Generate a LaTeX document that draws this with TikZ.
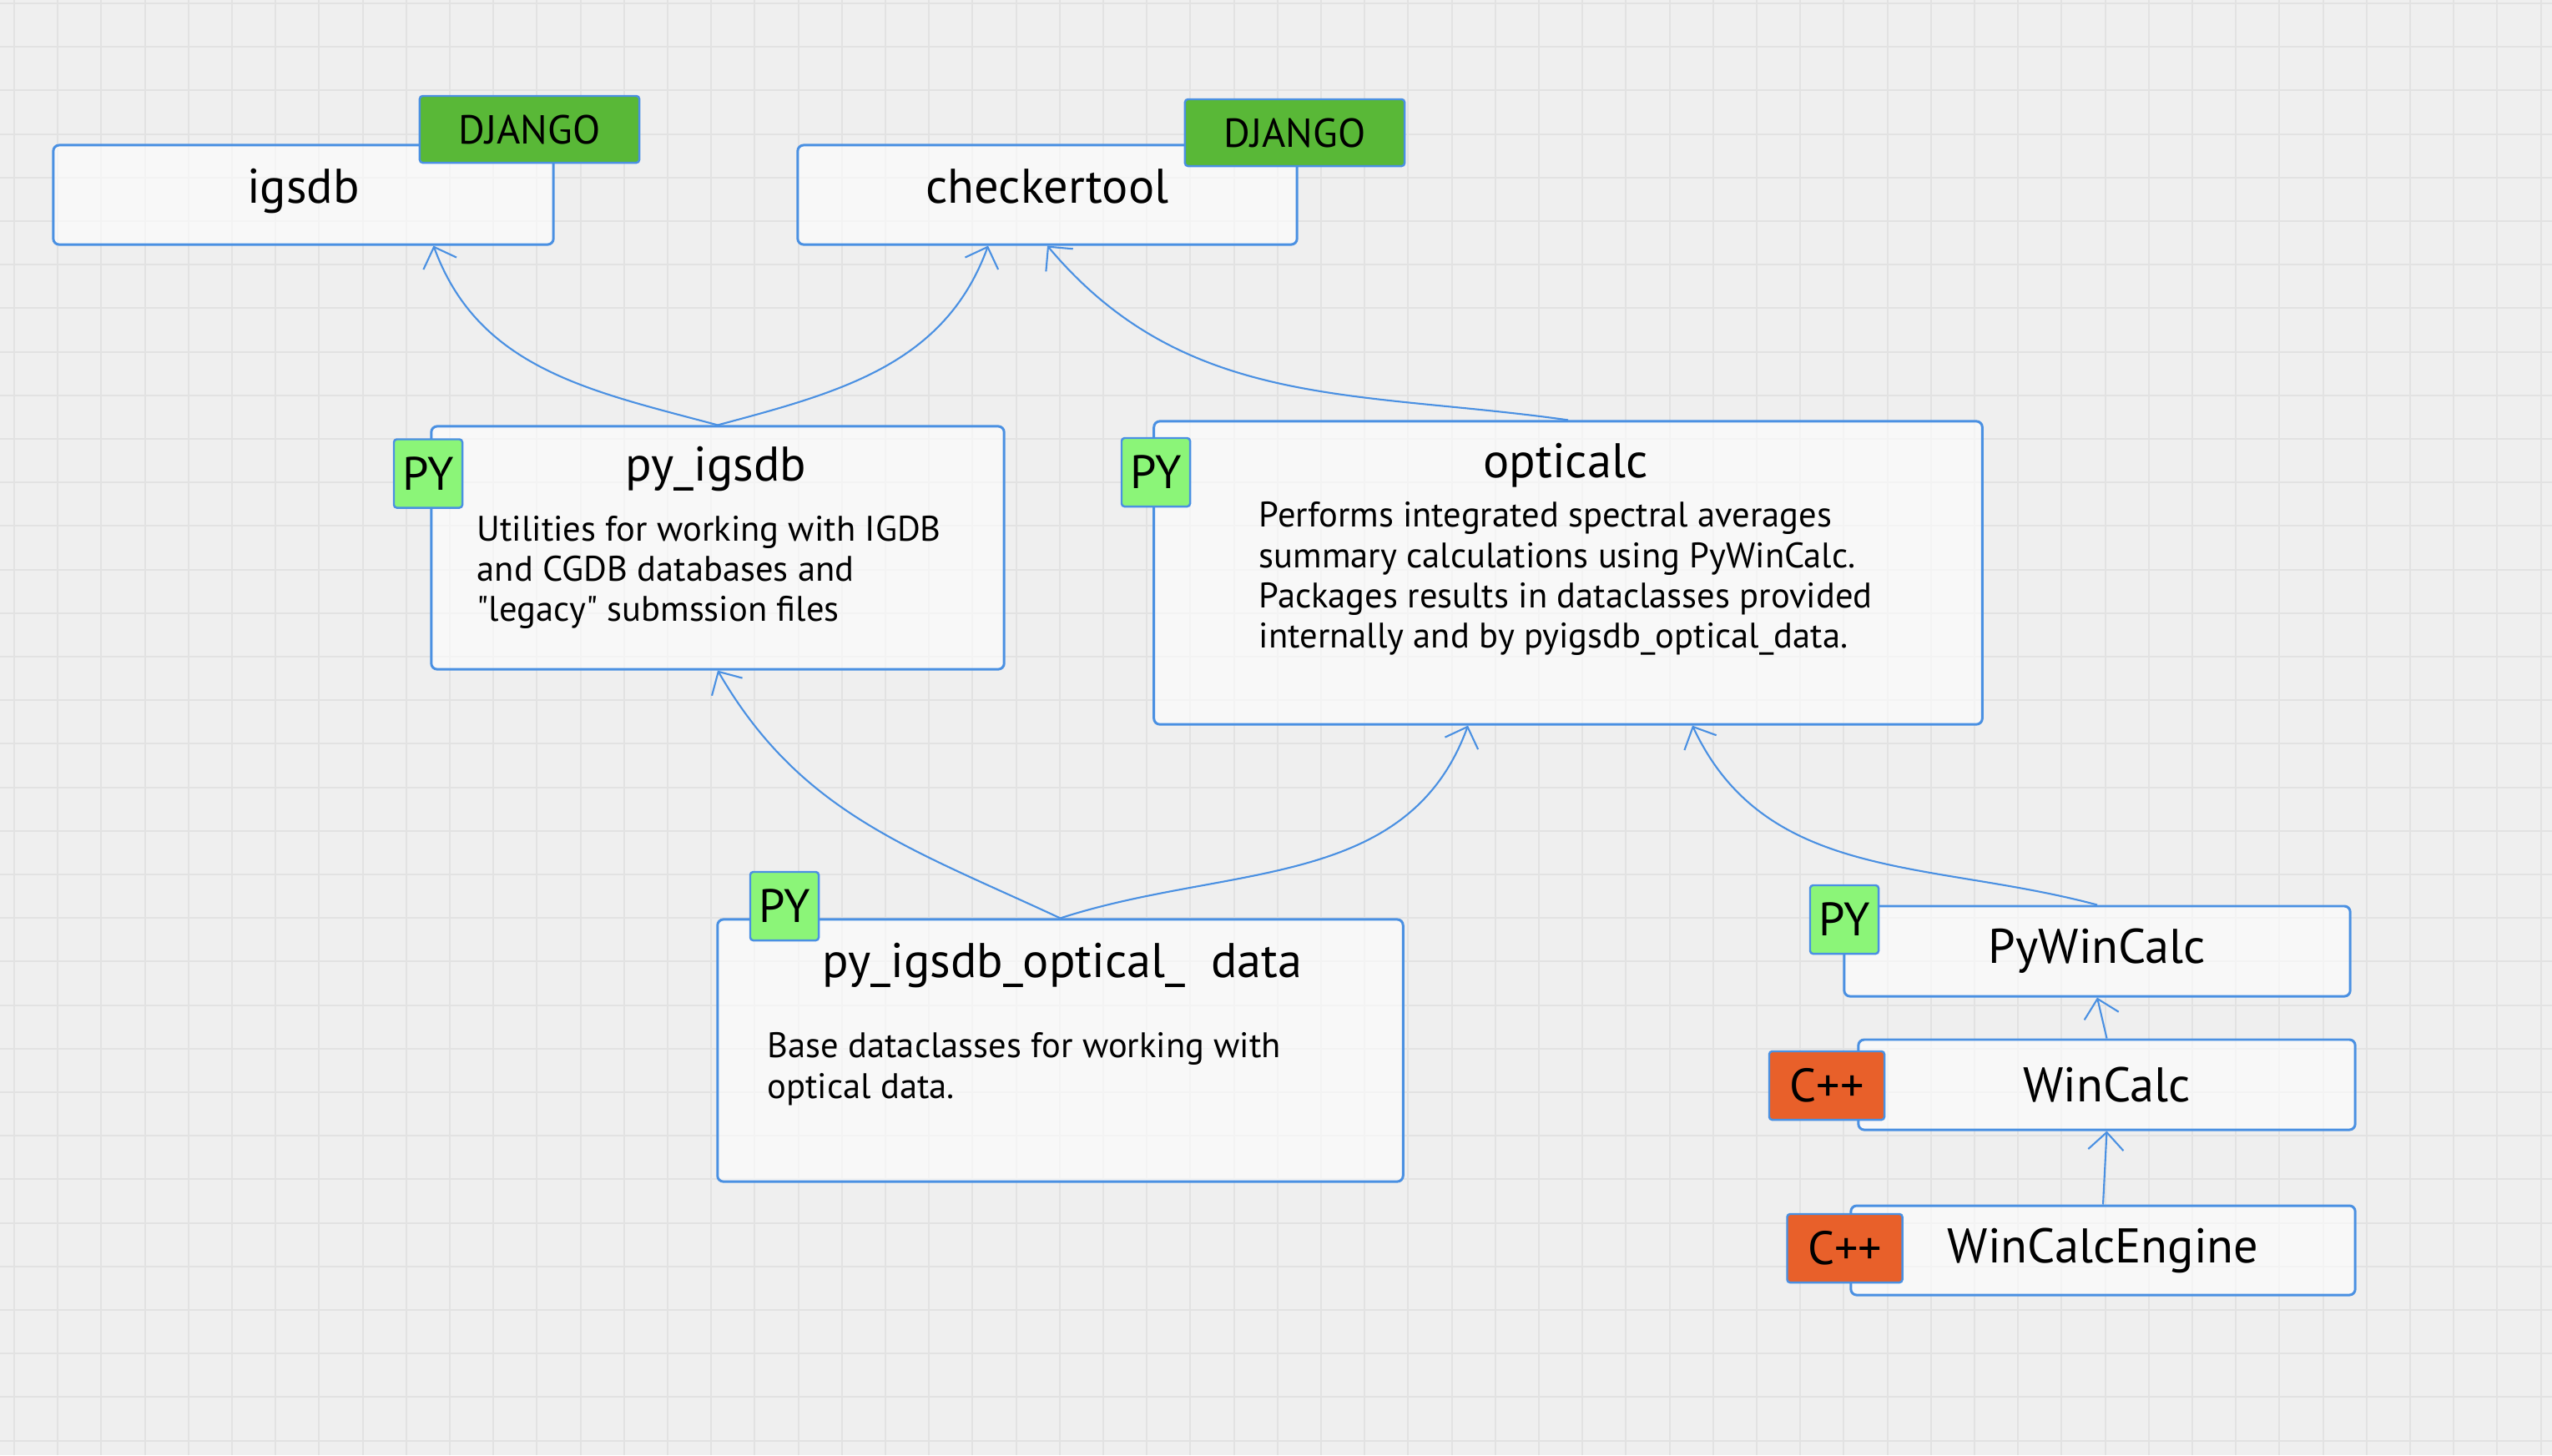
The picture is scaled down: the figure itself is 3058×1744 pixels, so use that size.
\documentclass[tikz,border=0pt]{standalone}
\usepackage{fontspec}
\setmainfont{PT Sans}[Ligatures=TeXOff]
\usetikzlibrary{arrows.meta,calc}
\definecolor{bgcol}{HTML}{EFEFEF}
\definecolor{gridcol}{HTML}{E2E2E2}
\definecolor{linkblue}{HTML}{4A90E2}
\definecolor{djgreen}{HTML}{59B837}
\definecolor{pygreen}{HTML}{8BF578}
\definecolor{cppor}{HTML}{E8602A}
\newcommand{\titlefont}{\fontsize{16.6}{19}\selectfont}
\newcommand{\descfont}{\fontsize{12.1}{13.7}\selectfont}
\begin{document}
\begin{tikzpicture}[x=0.01cm,y=0.01cm,
 box/.style={rectangle, rounded corners=2pt, draw=linkblue, line width=0.85pt, fill=white, fill opacity=0.6, text opacity=1, inner sep=0pt, font=\titlefont},
 tag/.style={rectangle, rounded corners=1pt, draw=linkblue, line width=0.7pt, inner sep=0pt, text=black},
 django/.style={tag, fill=djgreen, minimum width=2.63cm, minimum height=0.80cm, font=\fontsize{13.8}{16}\selectfont},
 pytag/.style={tag, fill=pygreen, minimum width=0.82cm, minimum height=0.82cm, font=\fontsize{16}{19}\selectfont},
 cpptag/.style={tag, fill=cppor, minimum width=1.38cm, minimum height=0.82cm, font=\fontsize{16}{19}\selectfont},
 link/.style={draw=linkblue, line width=0.6pt, -{Straight Barb[length=6pt,width=12pt]}},
 ttl/.style={font=\titlefont, inner sep=0pt},
 desc/.style={font=\descfont, align=left, inner sep=0pt, anchor=north west},
]
% background
\fill[bgcol] (0,0) rectangle (3058,-1744);
\begin{scope}
\clip (0,0) rectangle (3058,-1744);
\foreach \i in {0,...,58} \draw[gridcol, line width=0.02cm] ({17+52.2*\i},0) -- ({17+52.2*\i},-1744);
\foreach \j in {0,...,33} \draw[gridcol, line width=0.02cm] (0,{-4-52.2*\j}) -- (3058,{-4-52.2*\j});
\end{scope}
\useasboundingbox (0,0) rectangle (3058,-1744);

% boxes
\node[box, minimum width=5.99cm, minimum height=1.19cm, text depth=6pt] (igsdb) at (363.5,-233.5) {igsdb};
\node[box, minimum width=5.98cm, minimum height=1.19cm, text depth=6pt] (checker) at (1255,-233.5) {checkertool};
\node[box, minimum width=6.86cm, minimum height=2.91cm] (pyigsdb) at (860,-656.5) {};
\node[box, minimum width=9.92cm, minimum height=3.63cm] (opticalc) at (1879,-686.5) {};
\node[box, minimum width=8.21cm, minimum height=3.14cm] (pyopt) at (1270.5,-1259) {};
\node[box, minimum width=6.06cm, minimum height=1.08cm] (pywincalc) at (2513,-1140) {PyWinCalc};
\node[box, minimum width=5.95cm, minimum height=1.08cm] (wincalc) at (2524.5,-1300) {WinCalc};
\node[box, minimum width=6.04cm, minimum height=1.07cm] (engine) at (2520,-1498.5) {WinCalcEngine};

% titles and descriptions
\node[ttl] (pyigsdbtitle) at (858,-562) {py\_igsdb};
\node[desc] (pyigsdbdesc) at (571,-617) {Utilities for working with IGDB\\and CGDB databases and\\"legacy" submssion files};
\node[ttl] (opticalctitle) at (1876,-558) {opticalc};
\node[desc] (opticalcdesc) at (1508,-601) {Performs integrated spectral averages\\summary calculations using PyWinCalc.\\Packages results in dataclasses provided\\internally and by pyigsdb\_optical\_data.};
\node[ttl] (pyopttitle) at (1273,-1157) {py\_igsdb\_optical\_\ \ data};
\node[desc] (pyoptdesc) at (919,-1237) {Base dataclasses for working with\\optical data.};

% tags
\node[django] (dj1) at (634.5,-155) {DJANGO};
\node[django] (dj2) at (1551.5,-159) {DJANGO};
\node[pytag] (py1) at (513,-567.5) {PY};
\node[pytag] (py2) at (1385,-566) {PY};
\node[pytag] (py3) at (940,-1086) {PY};
\node[pytag] (py4) at (2210,-1102) {PY};
\node[cpptag] (cpp1) at (2189,-1301) {C++};
\node[cpptag] (cpp2) at (2210.5,-1496) {C++};

% connectors
\draw[link] (pyigsdb.north) to[out=165,in=-70] ($(igsdb.south)+(156,0)$);
\draw[link] (pyigsdb.north) to[out=15,in=-110] ($(checker.south)+(-71,0)$);
\draw[link] (opticalc.north) to[out=172,in=-50] (checker.south);
\draw[link] (pyopt.north) to[out=155,in=-60] (pyigsdb.south);
\draw[link] (pyopt.north) to[out=18,in=-110] ($(opticalc.south)+(-120,0)$);
\draw[link] (pywincalc.north) to[out=165,in=-65] ($(opticalc.south)+(149,0)$);
\draw[link] (wincalc.north) -- (pywincalc.south);
\draw[link] (engine.north) -- (wincalc.south);
\end{tikzpicture}
\end{document}
